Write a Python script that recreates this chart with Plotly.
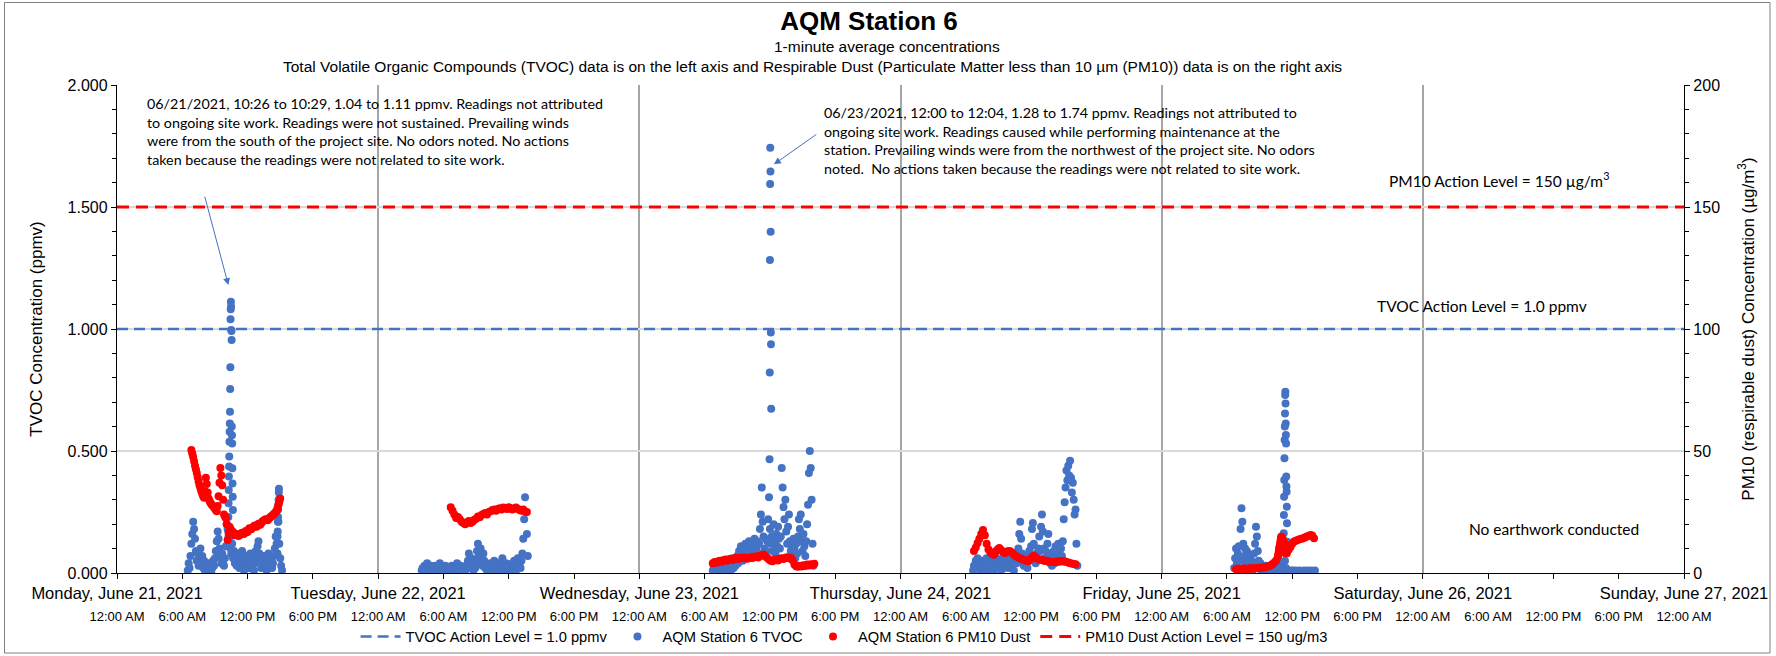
import pandas as pd
import plotly.graph_objects as go

# ---------------- axis labels ----------------
DAY_TICKS = ["2021-06-21", "2021-06-22", "2021-06-23", "2021-06-24",
             "2021-06-25", "2021-06-26", "2021-06-27"]
DAY_LABELS = ["Monday, June 21, 2021", "Tuesday, June 22, 2021", "Wednesday, June 23, 2021",
              "Thursday, June 24, 2021", "Friday, June 25, 2021", "Saturday, June 26, 2021",
              "Sunday, June 27, 2021"]
TIME_LABELS = ["12:00 AM", "6:00 AM", "12:00 PM", "6:00 PM"]
X_START, X_END = "2021-06-21 00:00", "2021-06-27 00:00"

TVOC_ACTION = 1.0      # ppmv
PM10_ACTION = 150      # ug/m3

# ---------------- TVOC (ppmv), 5-minute readings ----------------
tvoc_mon_start = "2021-06-21 06:30"
tvoc_mon = [0.01, 0.04, 0.02, 0.07, 0.12, 0.16,
            0.21, 0.18, 0.14, 0.09, 0.05, 0.08, 0.03, 0.06, 0.10, 0.04, 0.07, 0.02,
            0.05, 0.01, 0.03, 0.00, 0.02, 0.04, 0.01, 0.03, 0.00, 0.02, 0.05, 0.03,
            0.06, 0.09, 0.13, 0.17, 0.14, 0.10, 0.07, 0.04, 0.08, 0.05, 0.03, 0.06,
            0.11, 0.20, 0.18, 0.15, 0.14, 0.10, 0.08, 0.12, 0.06, 0.09, 0.04, 0.07,
            0.03, 0.05, 0.08, 0.02, 0.06, 0.04, 0.09, 0.03, 0.01, 0.05, 0.07, 0.02,
            0.04, 0.06, 0.02, 0.08, 0.05, 0.03, 0.07, 0.01, 0.04, 0.09, 0.06, 0.11,
            0.13, 0.08, 0.05, 0.02, 0.06, 0.04, 0.07, 0.03, 0.05, 0.01, 0.04, 0.08,
            0.06, 0.03, 0.05, 0.02, 0.04, 0.07, 0.10, 0.15, 0.12, 0.08, 0.21, 0.12,
            0.06, 0.03, 0.01]
# 1-minute readings around the peaks
tvoc_mon_peak_start = "2021-06-21 10:14"
tvoc_mon_peak = [0.23, 0.286, 0.34, 0.395, 0.436, 0.477, 0.538, 0.579, 0.613, 0.661, 0.754, 0.843,
                 1.04, 1.081, 1.112, 1.092, 0.996, 0.992, 0.955, 0.60, 0.565, 0.531, 0.429, 0.367,
                 0.313, 0.258]
tvoc_mon_peak2_start = "2021-06-21 14:44"
tvoc_mon_peak2 = [0.12, 0.15, 0.17, 0.21, 0.23, 0.26, 0.28, 0.30, 0.33, 0.345]

tvoc_tue_early_start = "2021-06-22 04:00"
tvoc_tue_early = [0.01, 0.02, 0.00, 0.03, 0.01, 0.02, 0.04, 0.01, 0.00, 0.02, 0.03, 0.01,
                  0.02, 0.00, 0.01, 0.03, 0.02, 0.00, 0.01, 0.02, 0.04, 0.02, 0.01, 0.00,
                  0.02, 0.01, 0.03, 0.02, 0.00, 0.01]
tvoc_tue_start = "2021-06-22 06:30"
tvoc_tue = [0.02, 0.00, 0.01, 0.03, 0.01, 0.02,
            0.00, 0.02, 0.01, 0.04, 0.02, 0.00, 0.01, 0.03, 0.02, 0.01, 0.00, 0.02,
            0.01, 0.03, 0.02, 0.05, 0.08, 0.04, 0.02, 0.06, 0.03, 0.01, 0.04, 0.02,
            0.05, 0.09, 0.12, 0.07, 0.04, 0.10, 0.06, 0.03, 0.08, 0.05, 0.02, 0.04,
            0.01, 0.03, 0.02, 0.00, 0.04, 0.02, 0.01, 0.03, 0.05, 0.02, 0.00, 0.01,
            0.02, 0.04, 0.01, 0.03, 0.02, 0.06, 0.03, 0.01, 0.02, 0.04, 0.01, 0.03,
            0.02, 0.00, 0.03, 0.01, 0.04, 0.02, 0.05, 0.03, 0.01, 0.02, 0.06, 0.03,
            0.04, 0.02, 0.05, 0.08, 0.14, 0.22, 0.31, 0.25, 0.16, 0.07]

tvoc_wed_start = "2021-06-23 06:45"
tvoc_wed = [0.01, 0.03, 0.02,
            0.00, 0.02, 0.04, 0.01, 0.03, 0.02, 0.05, 0.01, 0.00, 0.03, 0.02, 0.04,
            0.01, 0.03, 0.05, 0.02, 0.04, 0.01, 0.03, 0.06, 0.02, 0.04, 0.03, 0.05,
            0.07, 0.04, 0.09, 0.06, 0.11, 0.08, 0.05, 0.10, 0.07, 0.12, 0.09, 0.06,
            0.10, 0.13, 0.08, 0.11, 0.06, 0.12, 0.09, 0.14, 0.07, 0.10, 0.13, 0.08,
            0.12, 0.18, 0.24, 0.35, 0.21, 0.15, 0.10, 0.14, 0.09, 0.13, 0.22, 0.31,
            0.18, 0.12, 0.15, 0.09, 0.20, 0.13, 0.08, 0.16, 0.11, 0.19, 0.14, 0.10,
            0.15, 0.43, 0.35, 0.27, 0.22, 0.30, 0.17, 0.12, 0.19, 0.24, 0.13, 0.09,
            0.11, 0.07, 0.14, 0.10, 0.06, 0.12, 0.08, 0.15, 0.22, 0.18, 0.24, 0.13,
            0.09, 0.16, 0.11, 0.07, 0.13, 0.20, 0.28, 0.41, 0.50, 0.43, 0.30, 0.12,
            0.03]
tvoc_wed_peak_start = "2021-06-23 11:58"
tvoc_wed_peak = [0.466, 0.822, 1.283, 1.594, 1.743, 1.645, 1.399, 0.986, 0.937, 0.673]

tvoc_thu_start = "2021-06-24 06:40"
tvoc_thu = [0.01, 0.03, 0.02, 0.05,
            0.03, 0.06, 0.02, 0.04, 0.01, 0.03, 0.05, 0.02, 0.00, 0.04, 0.02, 0.06,
            0.03, 0.01, 0.05, 0.02, 0.04, 0.07, 0.03, 0.01, 0.04, 0.02, 0.06, 0.03,
            0.02, 0.05, 0.03, 0.01, 0.04, 0.06, 0.02, 0.05, 0.03, 0.07, 0.04, 0.02,
            0.05, 0.03, 0.06, 0.02, 0.04, 0.01, 0.05, 0.08, 0.04, 0.06, 0.10, 0.16,
            0.21, 0.14, 0.08, 0.05, 0.03, 0.06, 0.04, 0.07, 0.02, 0.05, 0.09, 0.06,
            0.11, 0.18, 0.205, 0.12, 0.07, 0.04, 0.08, 0.05, 0.10, 0.15, 0.09, 0.19,
            0.24, 0.17, 0.10, 0.06, 0.09, 0.05, 0.12, 0.16, 0.08, 0.04, 0.07, 0.03,
            0.06, 0.09, 0.04, 0.11, 0.07, 0.05, 0.12, 0.08, 0.06, 0.10, 0.07, 0.13,
            0.22, 0.29, 0.35, 0.42, 0.38, 0.44, 0.40, 0.46, 0.39, 0.33, 0.37, 0.30,
            0.24, 0.26, 0.12, 0.03]

tvoc_fri_start = "2021-06-25 06:40"
tvoc_fri = [0.02, 0.06, 0.10, 0.04,
            0.08, 0.11, 0.05, 0.18, 0.265, 0.21, 0.12, 0.07, 0.10, 0.04, 0.09, 0.06,
            0.03, 0.07, 0.02, 0.05, 0.01, 0.04, 0.08, 0.12, 0.19, 0.15, 0.09, 0.05,
            0.02, 0.04, 0.01, 0.03, 0.00, 0.02, 0.01, 0.03, 0.00, 0.02, 0.01, 0.00,
            0.01, 0.00, 0.02, 0.01, 0.00, 0.03, 0.01, 0.00, 0.02, 0.00, 0.01, 0.00,
            0.02, 0.04, 0.09, 0.13, 0.05, 0.02, 0.01, 0.00, 0.01, 0.00, 0.00, 0.01,
            0.00, 0.01, 0.00, 0.00, 0.01, 0.00, 0.00, 0.00, 0.01, 0.00, 0.00, 0.00,
            0.00, 0.01, 0.00, 0.00, 0.00, 0.01, 0.00, 0.00, 0.00, 0.01, 0.00, 0.00,
            0.00, 0.01]
tvoc_fri_peak_start = "2021-06-25 11:12"
tvoc_fri_peak = [0.094, 0.163, 0.238, 0.313, 0.381, 0.47, 0.545, 0.60, 0.654, 0.729, 0.743,
                 0.695, 0.613, 0.566, 0.531, 0.395, 0.354, 0.333, 0.272, 0.204, 0.128]

# ---------------- PM10 (ug/m3) ----------------
pm_mon_start = "2021-06-21 06:50"   # 5-minute readings
pm_mon = [50.4, 49.0,
          47.5, 45.8, 44.0, 42.5, 41.0, 39.2, 37.5, 36.0, 34.8, 33.5, 32.5, 31.5,
          30.8, 33.5, 39.0, 36.5, 33.0, 30.5, 29.6, 28.8, 28.2, 27.8, 27.4, 26.9,
          26.3, 25.8, 25.3, 27.5, 31.5, 37.0, 43.0, 40.0, 36.0, 30.0, 24.0, 23.2,
          22.5, 20.0, 13.5, 16.5, 19.0, 18.2, 17.5, 17.0, 16.8, 16.0, 15.5, 15.8,
          16.0, 15.6, 15.2, 15.5, 15.8, 16.2, 16.5, 16.3, 16.0, 16.6, 17.2, 17.0,
          16.8, 17.6, 18.3, 18.1, 17.9, 18.4, 18.8, 19.2, 19.5, 19.2, 19.0, 19.6,
          20.2, 20.0, 19.8, 20.4, 21.0, 21.3, 21.5, 21.8, 22.0, 21.8, 21.6, 22.0,
          22.5, 22.8, 23.2, 23.5, 23.8, 24.2, 24.5, 25.0, 25.5, 26.5, 28.0, 29.2,
          30.5]
pm_tue_start = "2021-06-22 06:40"   # 10-minute readings
pm_tue = [26.9, 25.5, 24.0, 22.5, 23.0, 22.0, 21.0, 20.5, 20.0, 20.8, 21.3, 20.5, 21.0, 21.8,
          22.2, 23.2, 22.8, 23.8, 24.2, 24.6, 24.0, 25.0, 25.3, 25.8, 26.0, 25.5, 26.2, 26.5,
          26.0, 26.8, 26.5, 26.2, 26.9, 26.4, 26.0, 26.5, 26.8, 26.2, 25.8, 25.5, 26.0, 25.2,
          25.0]
pm_wed_start = "2021-06-23 06:45"
pm_wed = [4.0, 4.5, 4.2, 4.8, 5.0, 4.6, 5.2, 5.5, 5.0, 5.6, 5.8, 5.3, 5.9, 6.2, 5.7, 6.0, 6.4,
          6.0, 6.3, 5.8, 6.1, 6.5, 6.2, 6.6, 6.9, 6.4, 7.0, 7.4, 7.6, 6.8, 6.2, 5.5, 5.0, 4.8,
          5.3, 5.6, 5.1, 5.8, 6.0, 5.7, 6.2, 6.5, 6.0, 6.3, 5.2, 3.5, 2.8, 2.6, 3.0, 2.7, 3.2,
          2.9, 3.5, 3.1, 3.6, 3.3, 3.8]
pm_thu_start = "2021-06-24 06:45"
pm_thu = [9.0, 10.5, 12.3, 14.0, 16.0, 17.6, 15.5, 12.0, 9.6, 8.5, 7.8, 7.5, 8.8, 9.6, 10.2,
          9.4, 8.6, 8.2, 8.7, 9.0, 8.9, 8.3, 7.6, 7.0, 6.6, 6.1, 5.8, 5.5, 5.2, 5.0, 4.8, 5.6,
          6.5, 7.1, 6.3, 5.8, 5.5, 5.5, 5.2, 4.9, 5.0, 4.7, 4.6, 4.5, 4.6, 4.4, 4.8, 4.6, 4.9,
          4.7, 4.8, 4.5, 4.3, 4.0, 3.9, 3.7, 3.6]
pm_fri_start = "2021-06-25 06:50"
pm_fri = [1.5, 1.8, 1.4, 1.6, 1.9, 1.5, 1.7, 1.6, 2.0, 1.8, 1.7, 2.1, 1.9, 2.2, 2.0, 2.4, 2.3,
          2.6, 2.8, 3.1, 3.6, 4.2, 5.0, 6.5, 10.7, 14.9, 13.5, 12.0, 8.1, 9.5, 10.7, 12.0, 12.9,
          13.2, 13.5, 13.8, 14.0, 14.2, 14.6, 15.0, 15.2, 15.6, 15.4, 14.2]
pm_fri_jump_start = "2021-06-25 10:42"   # 2-minute readings during the step
pm_fri_jump = [7.2, 8.0, 9.0, 9.8, 10.7, 11.5, 12.4, 13.3, 14.2, 14.9, 14.3, 13.8, 13.5, 13.0,
               12.5, 12.0, 11.2, 10.3, 9.4, 8.5, 8.1]


def readings(start, step_min, values):
    times = pd.date_range(start, periods=len(values), freq=f"{step_min}min")
    return list(times), list(values)


tvoc_sets = [(tvoc_mon_start, 5, tvoc_mon), (tvoc_mon_peak_start, 1, tvoc_mon_peak),
             (tvoc_mon_peak2_start, 1, tvoc_mon_peak2), (tvoc_tue_early_start, 5, tvoc_tue_early),
             (tvoc_tue_start, 5, tvoc_tue),
             (tvoc_wed_start, 5, tvoc_wed), (tvoc_wed_peak_start, 1, tvoc_wed_peak),
             (tvoc_thu_start, 5, tvoc_thu), (tvoc_fri_start, 5, tvoc_fri),
             (tvoc_fri_peak_start, 1, tvoc_fri_peak)]
pm_sets = [(pm_mon_start, 5, pm_mon), (pm_tue_start, 10, pm_tue), (pm_wed_start, 10, pm_wed),
           (pm_thu_start, 10, pm_thu), (pm_fri_start, 10, pm_fri), (pm_fri_jump_start, 2, pm_fri_jump)]

tvoc_x, tvoc_y = [], []
for s, st, v in tvoc_sets:
    t, y = readings(s, st, v)
    tvoc_x += t
    tvoc_y += y
pm_x, pm_y = [], []
for s, st, v in pm_sets:
    t, y = readings(s, st, v)
    pm_x += t
    pm_y += y

BLUE = "#4472C4"
RED = "#FF0000"
FONT = "Liberation Sans, Arial, sans-serif"
NOTE_FONT = "Lato, Carlito, Calibri, sans-serif"

fig = go.Figure()
fig.add_trace(go.Scatter(x=[X_START, X_END], y=[TVOC_ACTION, TVOC_ACTION], mode="lines",
                         name="TVOC Action Level = 1.0 ppmv",
                         line=dict(color=BLUE, width=2.5, dash="11px,6px"),
                         xaxis="x2", yaxis="y"))
fig.add_trace(go.Scatter(x=tvoc_x, y=tvoc_y, mode="markers", name="AQM Station 6 TVOC",
                         marker=dict(color=BLUE, size=8, line=dict(width=0)), yaxis="y"))
fig.add_trace(go.Scatter(x=pm_x, y=pm_y, mode="markers", name="AQM Station 6 PM10 Dust",
                         marker=dict(color=RED, size=8, line=dict(width=0)), yaxis="y2"))
fig.add_trace(go.Scatter(x=[X_START, X_END], y=[PM10_ACTION, PM10_ACTION], mode="lines",
                         name="PM10 Dust Action Level = 150 ug/m3",
                         line=dict(color=RED, width=3, dash="12px,7px"), yaxis="y2"))

time_ticks = list(pd.date_range(X_START, X_END, freq="6h"))
time_text = [TIME_LABELS[i % 4] for i in range(len(time_ticks))]

fig.update_layout(
    template="none",
    width=1776, height=656, autosize=False,
    margin=dict(l=117, r=92, t=85, b=83, autoexpand=False),
    paper_bgcolor="white", plot_bgcolor="white",
    font=dict(family=FONT, color="black", size=14),
    title=dict(text="<b>AQM Station 6</b>", x=869 / 1776, xref="container", xanchor="center",
               y=1 - 21 / 656, yref="container", yanchor="middle",
               font=dict(size=26, family=FONT, color="black")),
    xaxis=dict(type="date", range=[X_START, X_END], tickvals=DAY_TICKS, ticktext=DAY_LABELS,
               showgrid=True, gridcolor="#a6a6a6", gridwidth=1.5,
               showline=True, linecolor="black", linewidth=1.3,
               ticks="outside", ticklen=5, tickcolor="black",
               tickfont=dict(size=16.5), zeroline=False, automargin=False),
    xaxis2=dict(type="date", range=[X_START, X_END], overlaying="x", anchor="y", side="bottom",
                tickvals=time_ticks, ticktext=time_text, showgrid=False, showline=False,
                ticks="outside", ticklen=5, tickcolor="black",
                tickfont=dict(size=13), ticklabelstandoff=26, zeroline=False, automargin=False),
    yaxis=dict(range=[0, 2], tickvals=[0, 0.5, 1.0, 1.5, 2.0], tickformat=".3f",
               showgrid=True, gridcolor="#d9d9d9", gridwidth=1.5,
               showline=True, linecolor="black", linewidth=1.3,
               ticks="outside", ticklen=5, tickcolor="black", tickfont=dict(size=16),
               minor=dict(dtick=0.1, ticks="outside", ticklen=4, tickcolor="black", showgrid=False),
               title=dict(text="TVOC Concentration (ppmv)", font=dict(size=17), standoff=20),
               zeroline=False, automargin=False),
    yaxis2=dict(range=[0, 200], tickvals=[0, 50, 100, 150, 200], overlaying="y", side="right",
                showgrid=False, showline=True, linecolor="black", linewidth=1.3,
                ticks="outside", ticklen=5, tickcolor="black", tickfont=dict(size=16),
                minor=dict(dtick=10, ticks="outside", ticklen=4, tickcolor="black", showgrid=False),
                title=dict(text="PM10 (respirable dust) Concentration (µg/m<sup>3</sup>)",
                           font=dict(size=17), standoff=22),
                zeroline=False, automargin=False),
    legend=dict(orientation="h", x=0.464, xanchor="center", y=-0.131, yanchor="middle",
                font=dict(size=14.7, family=FONT), itemwidth=40, bgcolor="rgba(0,0,0,0)"),
    showlegend=True,
)

annotations = [
    dict(text="1-minute average concentrations", xref="paper", yref="paper",
         x=(887 - 117) / 1567, y=(573 - 46) / 488, xanchor="center", yanchor="middle",
         showarrow=False, font=dict(size=15.5, family=FONT)),
    dict(text="Total Volatile Organic Compounds (TVOC) data is on the left axis and Respirable Dust "
              "(Particulate Matter less than 10 µm (PM10)) data is on the right axis",
         xref="paper", yref="paper", x=(812 - 117) / 1567, y=(573 - 66) / 488,
         xanchor="center", yanchor="middle", showarrow=False, font=dict(size=15.5, family=FONT)),
    dict(text="06/21/2021, 10:26 to 10:29, 1.04 to 1.11 ppmv. Readings not attributed<br>"
              "to ongoing site work. Readings were not sustained. Prevailing winds<br>"
              "were from the south of the project site. No odors noted. No actions<br>"
              "taken because the readings were not related to site work.",
         xref="paper", yref="paper", x=0.0179, y=0.983, xanchor="left", yanchor="top",
         align="left", showarrow=False, font=dict(size=14.3, family=NOTE_FONT)),
    dict(text="06/23/2021, 12:00 to 12:04, 1.28 to 1.74 ppmv. Readings not attributed to<br>"
              "ongoing site work. Readings caused while performing maintenance at the<br>"
              "station. Prevailing winds were from the northwest of the project site. No odors<br>"
              "noted.&nbsp; No actions taken because the readings were not related to site work.",
         xref="paper", yref="paper", x=0.45, y=0.966, xanchor="left", yanchor="top",
         align="left", showarrow=False, font=dict(size=14.3, family=NOTE_FONT)),
    dict(text="PM10 Action Level = 150 µg/m<sup>3</sup>", xref="paper", yref="paper",
         x=0.882, y=0.807, xanchor="center", yanchor="middle", showarrow=False,
         font=dict(size=15.5, family=NOTE_FONT)),
    dict(text="TVOC Action Level = 1.0 ppmv", xref="paper", yref="paper",
         x=0.871, y=0.547, xanchor="center", yanchor="middle", showarrow=False,
         font=dict(size=15.5, family=NOTE_FONT)),
    dict(text="No earthwork conducted", xref="paper", yref="paper",
         x=0.917, y=0.09, xanchor="center", yanchor="middle", showarrow=False,
         font=dict(size=15.5, family=NOTE_FONT)),
    # callout arrows pointing at the peaks
    dict(text="", x="2021-06-21 10:14", y=1.18, xref="x", yref="y", showarrow=True,
         ax=-24, ay=-90, arrowhead=2, arrowsize=1.4, arrowwidth=1, arrowcolor=BLUE),
    dict(text="", x="2021-06-23 12:22", y=1.675, xref="x", yref="y", showarrow=True,
         ax=44, ay=-31, arrowhead=2, arrowsize=1.4, arrowwidth=1, arrowcolor=BLUE),
]
fig.update_layout(annotations=annotations)

# outer chart border
fig.add_shape(type="rect", xref="paper", yref="paper",
              x0=(4.5 - 117) / 1567, x1=(1770 - 117) / 1567,
              y0=(573 - 653) / 488, y1=(573 - 2.5) / 488,
              line=dict(color="#808080", width=1), fillcolor="rgba(0,0,0,0)", layer="below")

fig.write_html("out.html", config={"displayModeBar": False},
               post_script="document.body.style.margin='0px';")
